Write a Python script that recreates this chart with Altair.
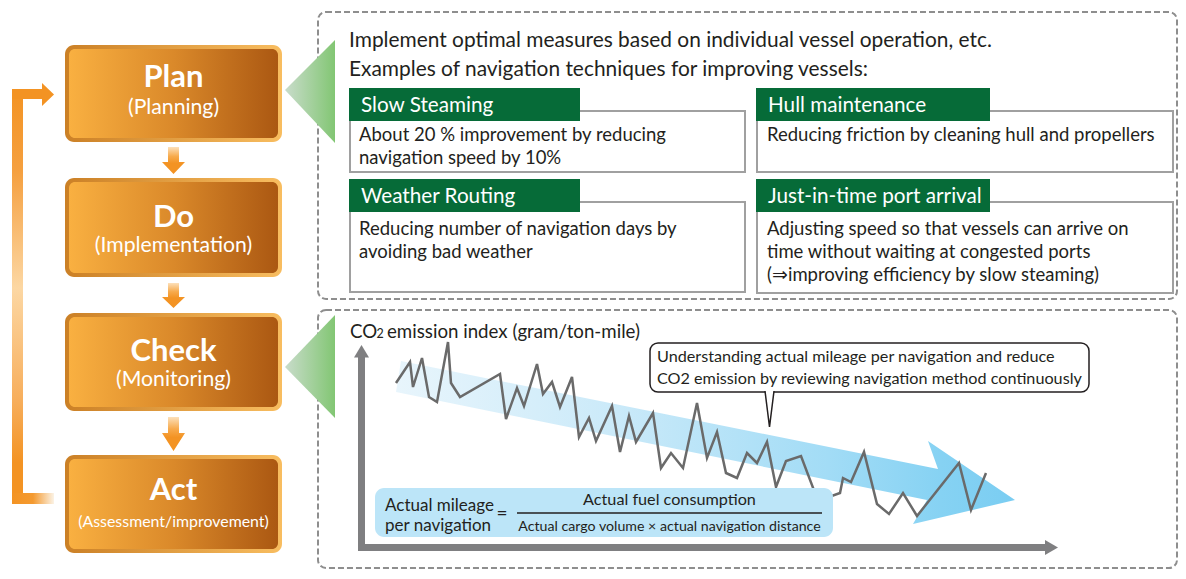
import altair as alt
import pandas as pd

# ---------------- content ----------------
pdca_titles = ["Plan", "Do", "Check", "Act"]
pdca_subtitles = ["(Planning)", "(Implementation)", "(Monitoring)", "(Assessment/improvement)"]
intro_lines = ["Implement optimal measures based on individual vessel operation, etc.",
               "Examples of navigation techniques for improving vessels:"]
technique_titles = ["Slow Steaming", "Hull maintenance", "Weather Routing", "Just-in-time port arrival"]
technique_texts = [["About 20 % improvement by reducing", "navigation speed by 10%"],
                   ["Reducing friction by cleaning hull and propellers"],
                   ["Reducing number of navigation days by", "avoiding bad weather"],
                   ["Adjusting speed so that vessels can arrive on",
                    "time without waiting at congested ports",
                    "(\u21d2improving efficiency by slow steaming)"]]
callout_lines = ["Understanding actual mileage per navigation and reduce",
                 "CO2 emission by reviewing navigation method continuously"]
axis_title = ["CO", "2", "emission index (gram/ton-mile)"]
formula_left = ["Actual mileage", "per navigation"]
formula_num = "Actual fuel consumption"
formula_den = "Actual cargo volume \u00d7 actual navigation distance"

# schematic CO2 emission index series: position along the time axis, index height above the axis
voyage = [35, 49, 52, 61, 68, 76, 87, 90, 99, 139, 145, 156, 163, 176, 182, 191, 199, 211, 218, 228,
          235, 251, 259, 268, 275, 292, 300, 310, 322, 336, 346, 356, 365, 376, 386, 396, 406, 415,
          425, 440, 457, 479, 482, 490, 503, 516, 528, 542, 556, 598, 610, 625]
co2_index = [164, 185, 160, 189, 150, 145, 205, 164, 150, 173, 128, 159, 141, 183, 153, 165, 140, 170,
             110, 129, 106, 141, 95, 131, 105, 134, 79, 94, 79, 144, 89, 115, 74, 69, 94, 84, 105, 60,
             86, 91, 46, 54, 69, 65, 95, 43, 33, 54, 31, 84, 37, 74]

# ---------------- styling / layout ----------------
FONT = "Lato, Liberation Sans, sans-serif"
DARK = "#231F20"
ORANGE = "#F39323"
GREEN = "#066B38"
AXIS_GRAY = "#7F7F81"
ORIGIN_X, ORIGIN_Y = 361, 547

XS = alt.Scale(domain=[8, 1178], nice=False, zero=False)
YS = alt.Scale(domain=[8, 571], nice=False, zero=False, reverse=True)


def X(f):
    return alt.X(f, type="quantitative", scale=XS, axis=None)


def Y(f):
    return alt.Y(f, type="quantitative", scale=YS, axis=None)


def grad(stops, vertical=False):
    return {"gradient": "linear", "x1": 0, "y1": 0,
            "x2": 0 if vertical else 1, "y2": 1 if vertical else 0,
            "stops": [{"offset": o, "color": c} for o, c in stops]}


def rect_layer(rows, **mark):
    df = pd.DataFrame(rows, columns=["x0", "y0", "x1", "y1"])
    return alt.Chart(df).mark_rect(**mark).encode(
        x=X("x0"), x2=alt.X2("x1"), y=Y("y0"), y2=alt.Y2("y1"))


def text_layer(rows, size, color=DARK, weight="normal", align="left"):
    df = pd.DataFrame(rows, columns=["x", "y", "t"])
    return alt.Chart(df).mark_text(font=FONT, fontSize=size, color=color, fontWeight=weight,
                                   align=align, baseline="alphabetic").encode(
        x=X("x"), y=Y("y"), text="t:N")


def poly_layer(vertices, fill, closed=True, **mark):
    """A polygon drawn as a custom symbol anchored at its first vertex (size 4 -> unit scale)."""
    ax, ay = vertices[0]
    path = "M" + " L".join(f"{x - ax:.2f},{y - ay:.2f}" for x, y in vertices) + (" Z" if closed else "")
    df = pd.DataFrame({"x": [ax], "y": [ay]})
    opts = dict(shape=path, size=4, filled=True, fill=fill, opacity=1)
    if "stroke" not in mark:
        opts["strokeWidth"] = 0
    opts.update(mark)
    return alt.Chart(df).mark_point(**opts).encode(x=X("x"), y=Y("y"))


layers = []

# dashed frames
layers.append(rect_layer([(318, 12, 1177, 299), (318, 310, 1177, 568)],
                         fill="#ffffff", fillOpacity=0, stroke="#8E8E8E", strokeWidth=2,
                         strokeDash=[6, 3], cornerRadius=8))

# technique boxes
box_pos = [(350, 111, 745, 172), (757, 111, 1173, 172), (350, 202, 745, 292), (757, 202, 1173, 293)]
layers.append(rect_layer(box_pos, fill="#ffffff", stroke="#A0A0A0", strokeWidth=2))
tab_pos = [(349, 88, 580, 121), (756, 88, 990, 121), (349, 179, 580, 212), (756, 179, 990, 212)]
layers.append(rect_layer(tab_pos, fill=GREEN))
tab_text_pos = [(361, 112), (768, 112), (361, 203), (768, 203)]
layers.append(text_layer([(p[0], p[1], t) for p, t in zip(tab_text_pos, technique_titles)],
                         20.7, color="#ffffff"))
body_start = [(359, 141), (767, 141), (359, 235), (767, 235)]
body_rows = []
for (bx, by), lines in zip(body_start, technique_texts):
    for k, line in enumerate(lines):
        body_rows.append((bx, by + 23 * k, line))
layers.append(text_layer(body_rows, 18.5))
layers.append(text_layer([(349, 47, intro_lines[0]), (349, 76, intro_lines[1])], 20.9))

# green pointer triangles
green_grad = grad([(0, "#C9DCCB"), (1, "#82C673")])
layers.append(poly_layer([(285, 90), (335, 40), (335, 143)], green_grad))
layers.append(poly_layer([(285, 367), (335, 315), (335, 418)], green_grad))

# feedback loop arrow
layers.append(rect_layer([(12, 89, 23, 504)],
                         fill=grad([(0, ORANGE), (0.2, "#F5A040"), (0.48, "#FCD7A3"),
                                    (0.75, "#F7AE5C"), (0.9, ORANGE), (1, ORANGE)], vertical=True)))
layers.append(rect_layer([(12, 89, 43, 99)], fill=ORANGE))
layers.append(poly_layer([(42, 83), (54, 94.5), (42, 106)], ORANGE))
layers.append(rect_layer([(12, 493, 54, 504)],
                         fill=grad([(0, ORANGE), (0.5, "#F49A30"), (1, "#FBF3E6")])))

# PDCA boxes
box_y = [(45, 142), (178, 277), (313, 411), (455, 553)]
layers.append(rect_layer([(65, a, 282, b) for a, b in box_y],
                         fill=grad([(0, "#CB8026"), (1, "#F8BD60")]), cornerRadius=9))
layers.append(rect_layer([(69, a + 4, 278, b - 4) for a, b in box_y],
                         fill=grad([(0, "#F9B041"), (0.5, "#DA892A"), (1, "#AB5812")]), cornerRadius=6))
title_base = [87, 227, 361, 500]
sub_base = [114, 252, 386, 527]
layers.append(text_layer([(173.5, y, t) for y, t in zip(title_base, pdca_titles)], 31,
                         color="#ffffff", weight="bold", align="center"))
layers.append(text_layer([(173.5, y, t) for y, t in zip(sub_base[:3], pdca_subtitles[:3])], 21.2,
                         color="#ffffff", align="center"))
layers.append(text_layer([(173.5, sub_base[3], pdca_subtitles[3])], 15.9,
                         color="#ffffff", align="center"))

# small down arrows between the PDCA boxes
arrow_grad = grad([(0, "#FCE0BA"), (0.35, "#F7AA4C"), (0.6, ORANGE), (1, ORANGE)], vertical=True)
for top, head, tip in [(147, 162, 174), (283, 297, 308), (417, 433, 451)]:
    layers.append(poly_layer([(168, top), (179, top), (179, head), (185, head), (173.5, tip),
                              (162, head), (168, head)], arrow_grad))

# trend band arrow
band_grad = grad([(0, "#E8F5FC"), (0.35, "#CBEAF9"), (0.7, "#A2DCF6"), (0.88, "#86D2F3"), (1, "#7ACDF2")])
layers.append(poly_layer([(401, 361), (938, 469), (928, 441), (1015, 500), (913, 524), (927, 500),
                          (396, 392)], band_grad))

# CO2 emission index line
line_df = pd.DataFrame({"voyage": voyage, "co2": co2_index})
line_df["i"] = range(len(line_df))
layers.append(alt.Chart(line_df).transform_calculate(
    px=f"{ORIGIN_X} + datum.voyage", py=f"{ORIGIN_Y} - datum.co2"
).mark_line(color="#6A6A6A", strokeWidth=2.5, strokeJoin="miter").encode(
    x=X("px"), y=Y("py"), order=alt.Order("i:Q")))

# axes arrows
layers.append(rect_layer([(358, 357, 365, 551), (358, 544, 1046, 551)], fill=AXIS_GRAY))
layers.append(poly_layer([(354, 357.5), (361.5, 345), (369, 357.5)], AXIS_GRAY))
layers.append(poly_layer([(1045, 540), (1058, 547.5), (1045, 555)], AXIS_GRAY))

# axis title
layers.append(text_layer([(350, 338, axis_title[0]), (387, 338, axis_title[2])], 18.7))
layers.append(text_layer([(376.5, 338, axis_title[1])], 12.5))

# formula box
layers.append(rect_layer([(375, 488, 833, 537)], fill="#BCE5F8", cornerRadius=9))
layers.append(text_layer([(385, 511, formula_left[0]), (385, 531, formula_left[1])], 17))
layers.append(text_layer([(502, 520, "=")], 19, align="center"))
layers.append(text_layer([(669.5, 505, formula_num)], 16.2, align="center"))
layers.append(text_layer([(669.5, 531, formula_den)], 14.2, align="center"))
frac_df = pd.DataFrame({"x": [517], "x2": [822], "y": [513]})
layers.append(alt.Chart(frac_df).mark_rule(color=DARK, strokeWidth=1.5).encode(
    x=X("x"), x2=alt.X2("x2"), y=Y("y")))

# callout with pointer
layers.append(rect_layer([(650, 343, 1089, 392)], fill="#ffffff", stroke=DARK, strokeWidth=1.5,
                         cornerRadius=8))
layers.append(poly_layer([(765, 391), (769.5, 427), (774, 391)], "#ffffff", closed=False,
                         stroke=DARK, strokeWidth=1.5, strokeJoin="miter"))
layers.append(text_layer([(657, 362, callout_lines[0]), (657, 384, callout_lines[1])], 16.2))

chart = alt.layer(*layers).properties(
    width=1170, height=563, padding=0, autosize="none"
).configure_view(strokeWidth=0)

chart.save("out.html", embed_options={"renderer": "svg", "actions": False})
